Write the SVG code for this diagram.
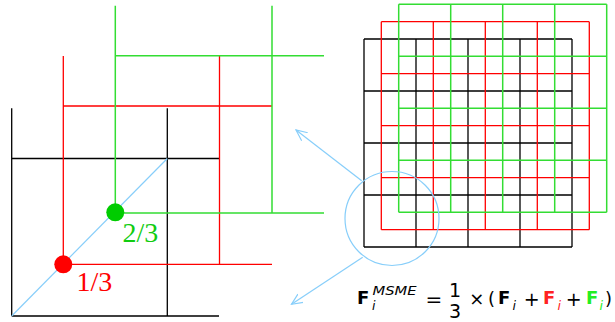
<svg xmlns="http://www.w3.org/2000/svg" width="615" height="322" viewBox="0 0 615 322">
<defs>
<style>
.k{stroke:#000;stroke-width:1.3;fill:none}
.r{stroke:#f00;stroke-width:1.3;fill:none}
.g{stroke:#3d3;stroke-width:1.5;fill:none}
.b{stroke:#87cefa;stroke-width:1.2;fill:none}
.lbl{font-family:"Liberation Serif",serif;font-size:28px}
.m{font-family:"DejaVu Sans",sans-serif;font-size:18px}
.mb{font-family:"DejaVu Sans",sans-serif;font-size:18px;font-weight:bold}
.mi{font-family:"DejaVu Sans",sans-serif;font-size:12.5px;font-style:italic}
</style>
<marker id="ah" viewBox="0 0 12 12" refX="11" refY="6" markerWidth="12" markerHeight="12" markerUnits="userSpaceOnUse" orient="auto">
<path d="M0,1 L11,6 L0,11" fill="none" stroke="#87cefa" stroke-width="1.2"/>
</marker>
</defs>
<rect width="615" height="322" fill="#fff"/>

<g id="left-grid">
<g id="left-black">
<path class="k" d="M11.7,108.3V316M167.3,108.3V316M11.7,158.5H219M11.7,316H219"/>
</g>
<g id="left-red">
<path class="r" d="M63.3,56V264.3M219.5,56V264.3M63.3,106H272M63.3,264.3H272"/>
</g>
<g id="left-green">
<path class="g" d="M115.3,5.7V213M272,5.7V213M115.3,55.7H324M115.3,213H324"/>
</g>
<line class="b" x1="11.7" y1="316" x2="167.3" y2="158.5"/>
<g id="dot-red"><circle cx="63.3" cy="264.3" r="9" fill="#f00"/><text class="lbl" x="76.5" y="291" fill="#f00">1/3</text></g>
<g id="dot-green"><circle cx="115.3" cy="212.3" r="9" fill="#0c0"/><text class="lbl" x="122.5" y="241.5" fill="#1c1">2/3</text></g>
</g>

<g id="right-grid">
<g id="right-black">
<path class="k" d="M364,39V247M416,39V247M468,39V247M520,39V247M572,39V247M364,39H572M364,91H572M364,143H572M364,195H572M364,247H572"/>
</g>
<g id="right-red">
<path class="r" d="M381.3,21.7V229.7M433.3,21.7V229.7M485.3,21.7V229.7M537.3,21.7V229.7M589.3,21.7V229.7M381.3,21.7H589.3M381.3,73.7H589.3M381.3,125.7H589.3M381.3,177.7H589.3M381.3,229.7H589.3"/>
</g>
<g id="right-green">
<path class="g" d="M398.7,4.3V212.3M450.7,4.3V212.3M502.7,4.3V212.3M554.7,4.3V212.3M606.7,4.3V212.3M398.7,4.3H606.7M398.7,56.3H606.7M398.7,108.3H606.7M398.7,160.3H606.7M398.7,212.3H606.7"/>
</g>
<circle id="zoom-circle" class="b" cx="392" cy="218.5" r="47"/>
</g>

<g id="connectors">
<line class="b" x1="361.7" y1="180.7" x2="296" y2="130" marker-end="url(#ah)"/>
<line class="b" x1="362.7" y1="257.3" x2="291.5" y2="304.3" marker-end="url(#ah)"/>
</g>

<g id="formula">
<text class="mb" x="357" y="304">F</text>
<text class="mi" x="372" y="309.5">i</text>
<text class="mi" x="372.5" y="294.7" textLength="44" lengthAdjust="spacingAndGlyphs">MSME</text>
<text class="m" x="434" y="305.5" text-anchor="middle" style="font-size:20px">=</text>
<text class="m" x="455" y="296.5" text-anchor="middle" style="font-size:19px">1</text>
<text class="m" x="455" y="318" text-anchor="middle" style="font-size:19px">3</text>
<text class="m" x="476.7" y="304.5" text-anchor="middle">×</text>
<text class="m" x="488" y="305">(</text>
<text class="mb" x="498" y="304">F</text>
<text class="mi" x="512.5" y="309.5">i</text>
<text class="m" x="531.7" y="306" text-anchor="middle" style="font-size:19px">+</text>
<text class="mb" x="543" y="304" fill="#f22">F</text>
<text class="mi" x="557.5" y="309.5" fill="#f22">i</text>
<text class="m" x="573.7" y="306" text-anchor="middle" style="font-size:19px">+</text>
<text class="mb" x="586" y="304" fill="#2e2">F</text>
<text class="mi" x="599.5" y="309.5" fill="#2e2">i</text>
<text class="m" x="605" y="305">)</text>
</g>
</svg>
